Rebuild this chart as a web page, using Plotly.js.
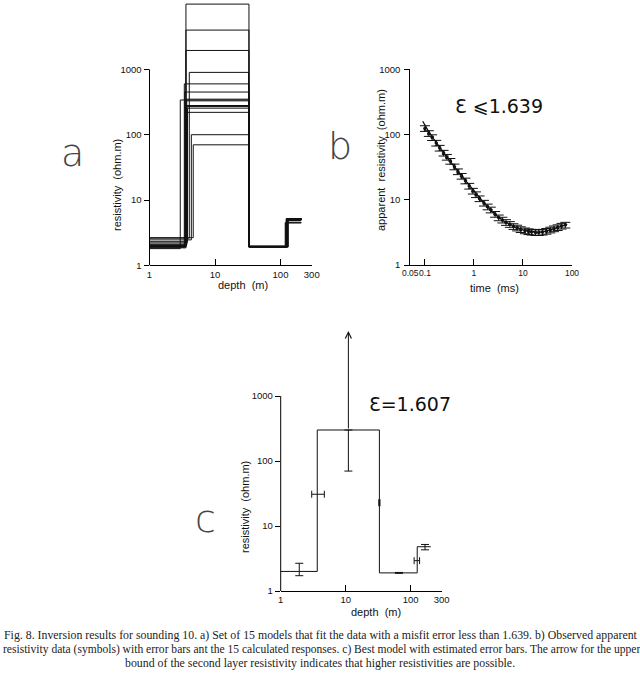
<!DOCTYPE html>
<html><head><meta charset="utf-8">
<script src="https://cdn.plot.ly/plotly-3.0.1.min.js"></script>
<style>html,body{margin:0;padding:0;background:#fff;}#chart{width:640px;height:677px;}</style>
</head><body><div id="chart"></div>
<script>
// ---------- Panel a: 15 models (4 layers each) ----------
const aRho1   = [1.85, 1.9, 1.95, 2.6, 1.9, 2.0, 2.1, 1.8, 1.95, 2.0, 2.2, 2.3, 2.05, 2.45, 2.65];
const aDepth1 = [3.6, 3.6, 3.6, 4.05, 3.4, 3.45, 3.7, 2.95, 3.55, 3.65, 3.75, 3.8, 3.7, 4.35, 4.65];
const aRho2   = [10000, 4000, 1950, 900, 600, 450, 350, 340, 330, 280, 270, 255, 220, 100, 70];
const aDepth2 = [33, 33, 33, 32.5, 33, 33, 33, 33, 33, 33, 33, 33, 33, 32.5, 32.5];
const aRho3   = [1.95, 1.95, 1.92, 1.95, 1.9, 1.95, 1.93, 1.95, 1.9, 1.92, 1.95, 1.93, 1.9, 1.95, 1.92];
const aDepth3 = [125, 128, 122, 130, 126, 124, 127, 118, 125, 129, 123, 126, 131, 120, 127];
const aRho4   = [5.1, 5.0, 5.2, 4.9, 5.0, 5.1, 4.8, 4.5, 5.0, 5.2, 4.9, 5.0, 5.1, 4.45, 5.0];
const aDepthEnd = [210, 210, 210, 205, 210, 210, 205, 210, 210, 210, 205, 210, 210, 205, 210];
const depthTicks = [1, 10, 100, 300];
const depthTickText = ['1', '10', '100', '300'];
const rhoTicks = [1, 10, 100, 1000];
const rhoTickText = ['1', '10', '100', '1000'];

// ---------- Panel b: observed data and calculated response ----------
const bTimes = [0.1, 0.12, 0.14, 0.17, 0.2, 0.24, 0.28, 0.33, 0.4, 0.47, 0.56, 0.67, 0.8, 0.95, 1.1, 1.3, 1.6, 1.9, 2.2, 2.7, 3.2, 3.8, 4.5, 5.4, 6.4, 7.6, 9, 11, 13, 15, 18, 21, 25, 30, 36, 43, 51, 61, 73];
const bRho   = [124, 104, 90, 74, 62, 52, 45, 39, 32, 27, 23, 19.5, 16.2, 13.6, 12, 10.4, 8.9, 7.8, 7.0, 6.0, 5.3, 4.9, 4.5, 4.2, 3.9, 3.7, 3.5, 3.35, 3.25, 3.2, 3.15, 3.15, 3.2, 3.3, 3.45, 3.6, 3.75, 3.95, 4.1];
const bModelT   = [0.09, 0.1, 0.12, 0.15, 0.2, 0.3, 0.4, 0.5, 0.7, 1, 1.5, 2, 3, 4, 5, 7, 10, 15, 20, 30, 50, 80];
const bModelRho = [160, 138, 110, 86, 63, 42, 32, 26, 18.6, 13.2, 9.4, 7.5, 5.6, 4.75, 4.3, 3.8, 3.45, 3.22, 3.15, 3.3, 3.7, 4.2];
const timeTicks = [0.05, 0.1, 1, 10, 100];
const timeTickText = ['0.05', '0.1', '1', '10', '100'];

// ---------- Panel c: best model with error bars ----------
const cRho   = [2.0, 300, 1.9, 4.8];
const cDepth = [3.65, 33, 126];
const cDepthEnd = 204;
const cRhoErrX  = [1.93, 11, 66, 166];
const cRhoLow   = [1.72, 70, 1.87, 4.3];
const cRhoHigh  = [2.67, 10000, 1.93, 5.2];
const cUnbounded = [false, true, false, false];
const cDepthErrY = [30.8, 22.8, 2.93];
const cDepthLow  = [3.0, 32.3, 113];
const cDepthHigh = [4.69, 33.7, 137];

const W = 640, H = 677;
const px = x => x / W, py = y => 1 - y / H;
const ink = '#111';
const tickFont = {family: 'Liberation Sans, Arial, sans-serif', size: 9.5, color: ink};
const tickFontSmall = {family: 'Liberation Sans, Arial, sans-serif', size: 8.5, color: ink};
const titleFont = {family: 'Liberation Sans, Arial, sans-serif', size: 11, color: ink};

function stepModel(rhos, depths, end) {
  const xs = [1], ys = [rhos[0]];
  for (let i = 0; i < depths.length; i++) {
    xs.push(depths[i], depths[i]);
    ys.push(rhos[i], rhos[i + 1]);
  }
  xs.push(end); ys.push(rhos[rhos.length - 1]);
  return {xs, ys};
}

const traces = [];
for (let m = 0; m < aRho1.length; m++) {
  const s = stepModel([aRho1[m], aRho2[m], aRho3[m], aRho4[m]], [aDepth1[m], aDepth2[m], aDepth3[m]], aDepthEnd[m]);
  traces.push({x: s.xs, y: s.ys, xaxis: 'x', yaxis: 'y', type: 'scatter', mode: 'lines',
    line: {color: ink, width: 1}, hoverinfo: 'skip', showlegend: false});
}

traces.push({x: bModelT, y: bModelRho, xaxis: 'x2', yaxis: 'y2', type: 'scatter', mode: 'lines',
  line: {color: ink, width: 1.3}, showlegend: false});
traces.push({x: bTimes, y: bRho, xaxis: 'x2', yaxis: 'y2', type: 'scatter', mode: 'markers',
  marker: {color: ink, size: 3.5},
  error_y: {type: 'percent', value: 10, color: ink, thickness: 1, width: 5},
  showlegend: false});

const cs = stepModel(cRho, cDepth, cDepthEnd);
traces.push({x: cs.xs, y: cs.ys, xaxis: 'x3', yaxis: 'y3', type: 'scatter', mode: 'lines',
  line: {color: ink, width: 1}, showlegend: false});
traces.push({x: cRhoErrX, y: cRho, xaxis: 'x3', yaxis: 'y3', type: 'scatter', mode: 'markers',
  marker: {size: 0.1, color: ink},
  error_y: {type: 'data', symmetric: false,
    array: cRhoHigh.map((h, i) => cUnbounded[i] ? 0 : h - cRho[i]),
    arrayminus: cRhoLow.map((l, i) => cRho[i] - l), color: ink, thickness: 1, width: 4},
  showlegend: false});
traces.push({x: cDepth, y: cDepthErrY, xaxis: 'x3', yaxis: 'y3', type: 'scatter', mode: 'markers',
  marker: {size: 0.1, color: ink},
  error_x: {type: 'data', symmetric: false,
    array: cDepthHigh.map((h, i) => h - cDepth[i]),
    arrayminus: cDepthLow.map((l, i) => cDepth[i] - l), color: ink, thickness: 1, width: 3.5},
  showlegend: false});

function logAxis(domain, range, tv, tt, ticks, extra) {
  return Object.assign({type: 'log', domain, range, tickvals: tv, ticktext: tt, ticks,
    ticklen: 5, tickwidth: 1, tickcolor: '#000', tickfont: tickFont, tickangle: 0,
    showgrid: false, zeroline: false, showline: true, linecolor: '#000', linewidth: 1,
    fixedrange: true}, extra || {});
}

const aTop = 4.02, cTop = 4.01;
const layout = {
  width: W, height: H, margin: {l: 0, r: 0, t: 0, b: 0},
  paper_bgcolor: '#fff', plot_bgcolor: 'rgba(0,0,0,0)', showlegend: false,
  xaxis:  logAxis([px(149.5), px(311.75)], [0, Math.log10(300)], depthTicks, depthTickText, 'inside', {anchor: 'y', ticklen: 6}),
  yaxis:  logAxis([py(265.3), py(265.3 - aTop * 65.3)], [0, aTop], rhoTicks, rhoTickText, 'outside', {anchor: 'x', showline: false}),
  xaxis2: logAxis([px(410.2), px(572)], [Math.log10(0.05), 2], timeTicks, timeTickText, 'inside', {anchor: 'y2', ticklen: 6, tickfont: tickFontSmall}),
  yaxis2: logAxis([py(265), py(69.3)], [0, 3], rhoTicks, rhoTickText, 'outside', {anchor: 'x2', ticklabelstandoff: 2}),
  xaxis3: logAxis([px(280.7), px(441.7)], [0, Math.log10(300)], depthTicks, depthTickText, 'inside', {anchor: 'y3', ticklen: 6}),
  yaxis3: logAxis([py(591), py(591 - cTop * 65)], [0, cTop], rhoTicks, rhoTickText, 'outside', {anchor: 'x3', showline: false}),
  shapes: [
    {type: 'line', xref: 'x domain', yref: 'y domain', x0: 0, x1: 0, y0: 0, y1: 3 / aTop, line: {color: '#000', width: 1}},
    {type: 'line', xref: 'x3 domain', yref: 'y3 domain', x0: 0, x1: 0, y0: 0, y1: 3 / cTop, line: {color: '#000', width: 1}}
  ],
  annotations: []
};

function txt(text, x, y, font, extra) {
  layout.annotations.push(Object.assign({text, x: px(x), y: py(y), xref: 'paper', yref: 'paper',
    showarrow: false, xanchor: 'center', yanchor: 'middle', font}, extra || {}));
}
// axis titles
txt('resistivity  (ohm.m)', 117, 185, titleFont, {textangle: -90});
txt('depth  (m)', 243, 285, titleFont);
txt('apparent  resistivity  (ohm.m)', 381, 160, titleFont, {textangle: -90});
txt('time  (ms)', 494, 288, titleFont);
txt('resistivity  (ohm.m)', 245, 507, titleFont, {textangle: -90});
txt('depth  (m)', 376, 612, titleFont);
// panel letters
const letterFont = {family: 'DejaVu Sans, sans-serif', size: 38, color: '#444', weight: 200};
txt('a', 72, 153, letterFont);
txt('b', 340, 146, letterFont);
txt('c', 205, 519, letterFont);
// misfit labels
const epsFont = {family: 'DejaVu Sans, sans-serif', size: 19, color: ink};
txt('Ɛ ⩽1.639', 499, 106, epsFont);
txt('Ɛ=1.607', 410, 404, epsFont);
// caption
const capFont1 = {family: 'Liberation Serif, Times New Roman, serif', size: 11.85, color: '#222'};
const capFont2 = {family: 'Liberation Serif, Times New Roman, serif', size: 11.55, color: '#222'};
txt('Fig. 8. Inversion results for sounding 10. a) Set of 15 models that fit the data with a misfit error less than 1.639. b) Observed apparent', 321, 635, capFont1);
txt('resistivity data (symbols) with error bars ant the 15 calculated responses. c) Best model with estimated error bars. The arrow for the upper', 321, 649, capFont2);
txt('bound of the second layer resistivity indicates that higher resistivities are possible.', 320, 663, capFont1);

// upward arrow for the unbounded upper error of layer 2 in panel c
cUnbounded.forEach((u, i) => {
  if (!u) return;
  layout.annotations.push({xref: 'x3', yref: 'y3', axref: 'x3', ayref: 'y3',
    x: Math.log10(cRhoErrX[i]), y: Math.log10(cRhoHigh[i]),
    ax: Math.log10(cRhoErrX[i]), ay: Math.log10(cRho[i]),
    text: '', showarrow: true, arrowhead: 5, arrowsize: 1.2, arrowwidth: 1, arrowcolor: ink, standoff: 0});
});

Plotly.newPlot('chart', traces, layout, {staticPlot: true, displayModeBar: false});
</script></body></html>
